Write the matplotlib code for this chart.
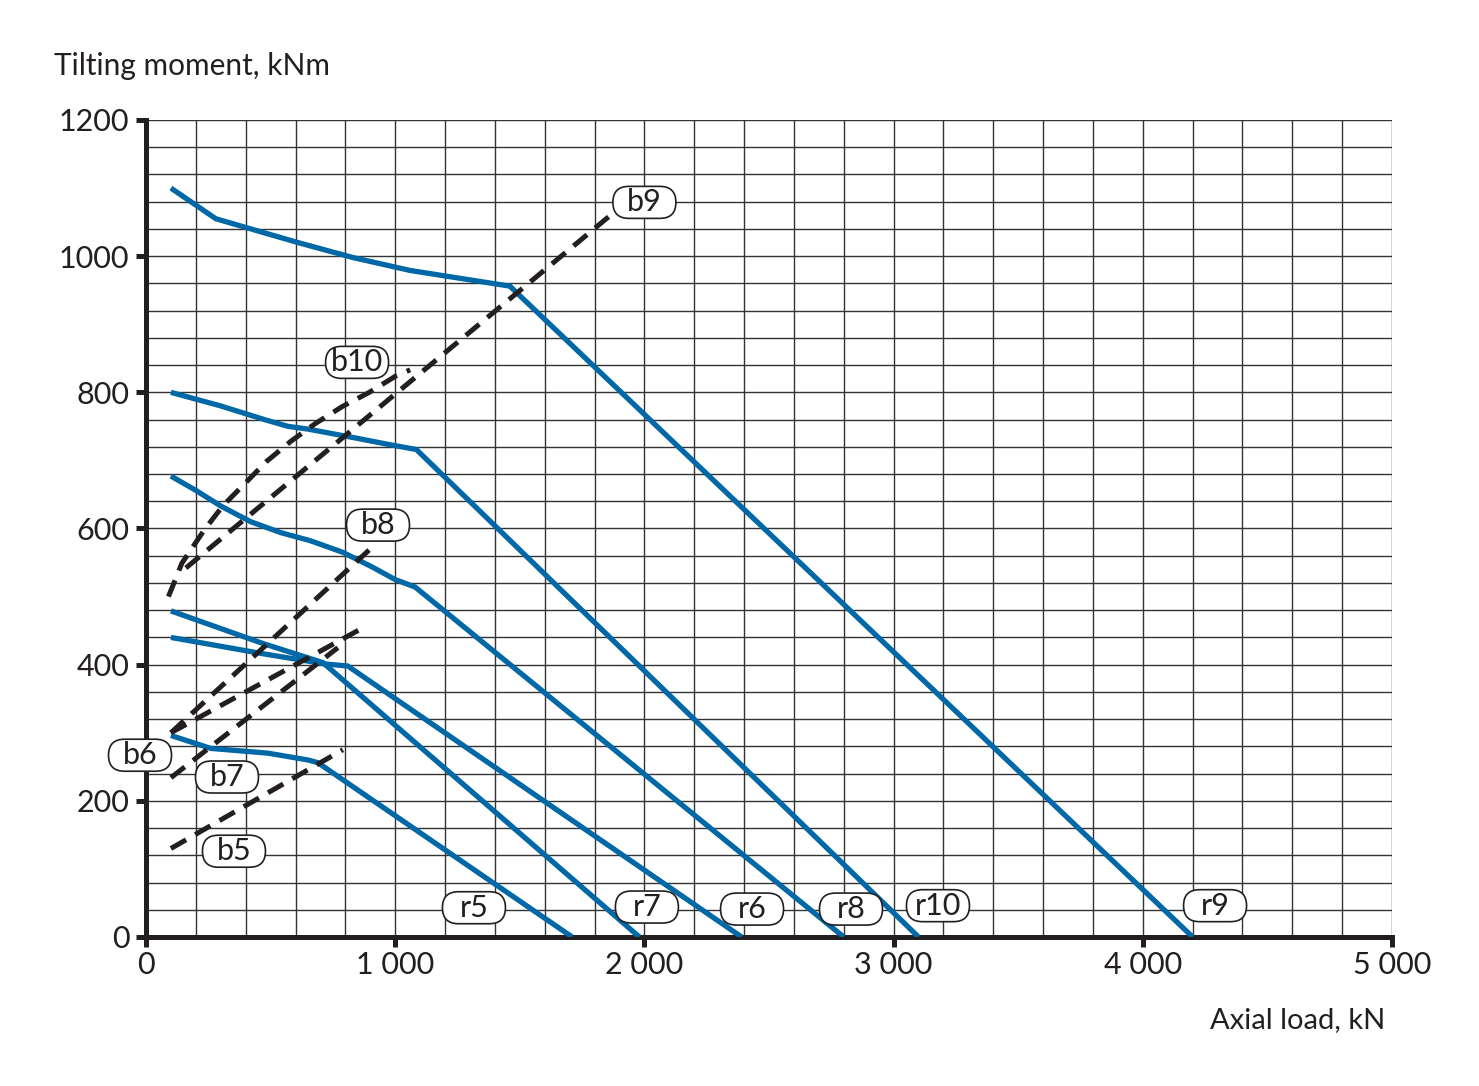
import matplotlib
matplotlib.use('Agg')
import matplotlib.pyplot as plt
from matplotlib.patches import FancyBboxPatch
from matplotlib.ticker import MultipleLocator, FixedLocator
from matplotlib.transforms import ScaledTranslation

plt.rcParams['font.family'] = ['Lato', 'DejaVu Sans']

# raceway curves (blue), axial load kN / tilting moment kNm
r5_x = [100, 260, 490, 650, 690, 1710]
r5_y = [296, 277, 270, 260, 256, 0]
r7_x = [100, 470, 710, 1980]
r7_y = [479, 431, 403, 0]
r6_x = [100, 470, 720, 810, 2390]
r6_y = [440, 416, 401, 398, 0]
r8_x = [100, 200, 300, 420, 540, 660, 790, 910, 1000, 1080, 2800]
r8_y = [677, 656, 633, 610, 594, 582, 565, 543, 525, 514, 0]
r10_x = [100, 300, 475, 570, 650, 840, 980, 1085, 3100]
r10_y = [800, 780, 760, 750, 746, 733, 723, 716, 0]
r9_x = [100, 280, 600, 830, 1060, 1460, 4200]
r9_y = [1100, 1055, 1021, 998, 979, 956, 0]

# bolt curves (dashed)
b5_x = [100, 790]
b5_y = [130, 275]
b6_x = [100, 860]
b6_y = [300, 452]
b7_x = [100, 770]
b7_y = [234, 425]
b8_x = [100, 900]
b8_y = [300, 570]
b9_x = [160, 1880]
b9_y = [542, 1065]
b10_x = [90, 110, 144, 234, 310, 394, 482, 581, 679, 787, 896, 1007, 1060]
b10_y = [500, 518, 549, 598, 634, 665, 698, 728, 754, 779, 800, 825, 833]

x_ticks = [0, 1000, 2000, 3000, 4000, 5000]
x_tick_labels = ['0', '1 000', '2 000', '3 000', '4 000', '5 000']
y_ticks = [0, 200, 400, 600, 800, 1000, 1200]

BLUE = '#0068A6'
INK = '#231F20'

fig = plt.figure(figsize=(14.79, 10.86), dpi=100)
ax = fig.add_axes([146 / 1479, 149 / 1086, 1246 / 1479, 817 / 1086])

blue_curves = [(r5_x, r5_y), (r7_x, r7_y), (r6_x, r6_y),
               (r8_x, r8_y), (r10_x, r10_y), (r9_x, r9_y)]
for xs, ys in blue_curves:
    ax.plot(xs, ys, color=BLUE, lw=3.8, solid_joinstyle='miter',
            solid_capstyle='butt', zorder=3)

dash_curves = [(b5_x, b5_y), (b6_x, b6_y), (b7_x, b7_y),
               (b8_x, b8_y), (b9_x, b9_y), (b10_x, b10_y)]
for xs, ys in dash_curves:
    ax.plot(xs, ys, color=INK, lw=3.6, dashes=(3.5, 2.1),
            dash_capstyle='butt', zorder=4)

# curve labels: fixed size pills (inches), centred on a data point
labels = [
    ('b9', 2000, 1079), ('b10', 847, 844), ('b8', 931, 605),
    ('b6', -24, 267), ('b7', 325, 235), ('b5', 353, 126),
    ('r5', 1316, 43), ('r7', 2010, 44), ('r6', 2432, 41),
    ('r8', 2829, 41), ('r10', 3178, 46), ('r9', 4290, 46),
]
pill_w, pill_h = 0.63, 0.32
for txt, lx, ly in labels:
    trans = fig.dpi_scale_trans + ScaledTranslation(lx, ly, ax.transData)
    pill = FancyBboxPatch((-pill_w / 2, -pill_h / 2), pill_w, pill_h,
                          boxstyle=f'round,pad=0,rounding_size={pill_h / 2}',
                          transform=trans, facecolor='white', edgecolor=INK,
                          linewidth=1.2, zorder=6, clip_on=False)
    ax.add_patch(pill)
    ax.text(lx, ly, txt, fontsize=22, color=INK, ha='center', va='center',
            zorder=7, clip_on=False)

ax.set_xlim(0, 5000)
ax.set_ylim(0, 1200)
ax.xaxis.set_major_locator(FixedLocator(x_ticks))
ax.set_xticklabels(x_tick_labels)
ax.yaxis.set_major_locator(FixedLocator(y_ticks))
ax.xaxis.set_minor_locator(MultipleLocator(200))
ax.yaxis.set_minor_locator(MultipleLocator(40))

ax.grid(True, which='both', color='#333333', linewidth=1.0)
ax.set_axisbelow(True)

for side in ['top', 'right']:
    ax.spines[side].set_visible(False)
for side in ['left', 'bottom']:
    ax.spines[side].set_linewidth(3.6)
    ax.spines[side].set_color(INK)
    ax.spines[side].set_capstyle('projecting')

ax.tick_params(which='major', direction='out', length=7, width=3.6,
               color=INK, labelsize=22, labelcolor=INK)
ax.tick_params(axis='y', which='major', pad=5)
ax.tick_params(axis='x', which='major', pad=3)
ax.tick_params(which='minor', length=0)

fig.text(54 / 1479, 1 - 66 / 1086, 'Tilting moment, kNm', fontsize=21.5,
         color=INK, ha='left', va='center')
fig.text(1385 / 1479, 1 - 1020 / 1086, 'Axial load, kN', fontsize=21,
         color=INK, ha='right', va='center')

fig.savefig('out.png', dpi=100, facecolor='white')
